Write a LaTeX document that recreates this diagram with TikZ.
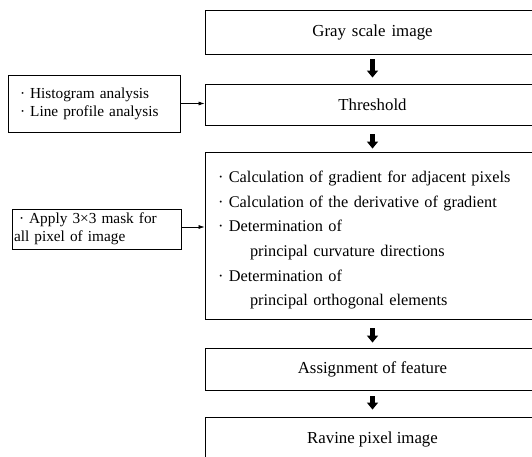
\documentclass[tikz,border=0pt]{standalone}
\usepackage{fontspec}
\setmainfont{Liberation Serif}
\usetikzlibrary{arrows.meta}
\newcommand\widesp[1]{\spaceskip=#1\relax}
\begin{document}
\begin{tikzpicture}[x=1pt,y=-1pt,
  mainbox/.style={draw, line width=0.9pt, minimum width=335pt, inner sep=0pt, font=\fontsize{16.8}{20}\selectfont},
  sidebox/.style={draw, line width=0.7pt, inner sep=0pt, align=left, font=\fontsize{15.3}{18}\selectfont},
  bigarrow/.style={line width=4.5pt, -{Triangle[width=11pt,length=7pt]}},
  thinarrow/.style={line width=0.6pt, -{Latex[length=6pt,width=4pt]}}]
\clip (0,0) rectangle (532,457);
\useasboundingbox (0,0) rectangle (532,457);
\node[mainbox, minimum height=44pt] (gray) at (372.5,32) {\widesp{6pt}Gray scale image};
\node[mainbox, minimum height=41pt] (thr) at (372.5,104.5) {Threshold};
\node[mainbox, minimum height=167pt, inner xsep=13pt, text width=309pt, align=left,
  font=\fontsize{16.3}{24.6}\selectfont] (calc) at (372.5,235.5) {%
  \mbox{\rule{0pt}{21pt}· Calculation of gradient for adjacent pixels}\\
  \mbox{· Calculation of the derivative of gradient}\\
  · Determination of\\
  \hspace*{32pt}principal curvature directions\\
  · Determination of\\
  \hspace*{32pt}principal orthogonal elements};
\node[mainbox, minimum height=42pt] (assign) at (372.5,369) {Assignment of feature};
\node[mainbox, minimum height=44pt] (ravine) at (372.5,439) {Ravine pixel image};
\node[sidebox, minimum width=172pt, minimum height=57pt, inner xsep=12pt, text width=148pt] (hist) at (94,103.5) {%
  \mbox{· Histogram analysis}\\
  \mbox{· Line profile analysis}};
\node[sidebox, minimum width=169pt, minimum height=40pt, inner xsep=2pt, text width=165pt] (mask) at (96.5,229) {%
  \mbox{\hspace*{5pt}· Apply 3×3 mask for}\\
  \mbox{all pixel of image}};
\draw[bigarrow, shorten <=5pt, shorten >=6pt] (gray.south) -- (thr.north);
\draw[bigarrow, shorten <=9pt, shorten >=3pt] (thr.south) -- (calc.north);
\draw[bigarrow, shorten <=9pt, shorten >=5pt] (calc.south) -- (assign.north);
\draw[bigarrow, shorten <=6pt, shorten >=7pt] (assign.south) -- (ravine.north);
\draw[thinarrow] (hist.east) -- (hist.east -| thr.west);
\draw[thinarrow] ([yshift=2pt]mask.east) -- ([yshift=2pt]mask.east -| calc.west);
\end{tikzpicture}
\end{document}
